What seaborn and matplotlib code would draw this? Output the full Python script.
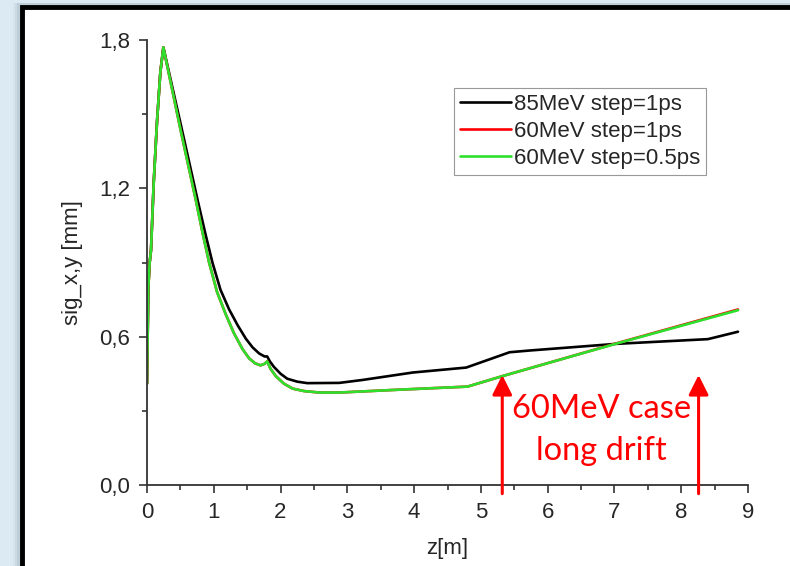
import matplotlib
matplotlib.use("Agg")
import matplotlib.pyplot as plt
import seaborn as sns
from matplotlib.patches import Rectangle
from matplotlib.ticker import MultipleLocator, FuncFormatter

# beam size along the line
z_85 = [0.0, 0.02, 0.04, 0.06, 0.10, 0.15, 0.20, 0.245, 0.50, 0.76, 0.88, 0.98,
        1.10, 1.23, 1.36, 1.48, 1.58, 1.68, 1.76, 1.80, 1.84, 1.90, 2.00, 2.10,
        2.25, 2.40, 2.88, 3.23, 3.98, 4.78, 5.43, 5.73, 7.03, 8.40, 8.85]
sig_85_1ps = [0.41, 0.80, 0.90, 0.95, 1.22, 1.47, 1.67, 1.77, 1.465, 1.15, 1.01, 0.90,
              0.79, 0.71, 0.645, 0.592, 0.557, 0.532, 0.52, 0.52, 0.50, 0.478, 0.45, 0.43,
              0.418, 0.412, 0.413, 0.425, 0.455, 0.475, 0.537, 0.544, 0.571, 0.59, 0.62]

z_60 = [0.0, 0.02, 0.04, 0.06, 0.10, 0.15, 0.20, 0.245, 0.50, 0.73, 0.84, 0.93,
        1.05, 1.18, 1.30, 1.43, 1.53, 1.62, 1.70, 1.76, 1.80, 1.85, 1.93, 2.05,
        2.18, 2.35, 2.58, 2.88, 3.73, 4.80, 5.33, 5.73, 7.03, 8.85]
sig_60_1ps = [0.41, 0.80, 0.90, 0.95, 1.22, 1.47, 1.67, 1.77, 1.44, 1.154, 1.01, 0.90,
              0.78, 0.69, 0.615, 0.55, 0.512, 0.492, 0.484, 0.49, 0.50, 0.47, 0.44, 0.41,
              0.39, 0.38, 0.374, 0.374, 0.385, 0.398, 0.441, 0.472, 0.573, 0.710]
sig_60_05ps = [0.41, 0.80, 0.90, 0.95, 1.22, 1.47, 1.67, 1.77, 1.44, 1.154, 1.01, 0.90,
               0.78, 0.69, 0.615, 0.55, 0.512, 0.492, 0.484, 0.49, 0.50, 0.47, 0.44, 0.41,
               0.39, 0.38, 0.374, 0.374, 0.385, 0.398, 0.441, 0.472, 0.572, 0.707]

labels = ["85MeV step=1ps", "60MeV step=1ps", "60MeV step=0.5ps"]
colors = ["#000000", "#ff0000", "#2ee02e"]

arrow_z = [5.32, 8.26]
arrow_tip = 0.445
arrow_base = -0.035
note = "60MeV case\nlong drift"

sns.set_theme(style="ticks")
plt.rcParams["font.family"] = ["Liberation Sans", "DejaVu Sans"]

fig = plt.figure(figsize=(7.9, 5.66), dpi=100, facecolor="#dbeaf3")

# slide frame with a soft shadow on the left
for i, a in enumerate([0.06, 0.10, 0.16]):
    fig.add_artist(Rectangle((0.016 + i * 0.003, -0.1), 1.2, 1.095, transform=fig.transFigure,
                             facecolor="#7d8b94", edgecolor="none", alpha=a, zorder=-3))
fig.add_artist(Rectangle((22 / 790, -0.1), 1.2, 1.1 - 7 / 566, transform=fig.transFigure,
                         facecolor="white", edgecolor="black", linewidth=3.5, zorder=-2))

ax = fig.add_axes([147 / 790, 81 / 566, 601 / 790, 445 / 566])
ax.set_facecolor("none")

sns.lineplot(x=z_85, y=sig_85_1ps, color=colors[0], linewidth=1.9, label=labels[0], sort=False, ax=ax)
sns.lineplot(x=z_60, y=sig_60_1ps, color=colors[1], linewidth=1.9, label=labels[1], sort=False, ax=ax)
sns.lineplot(x=z_60, y=sig_60_05ps, color=colors[2], linewidth=1.9, label=labels[2], sort=False, ax=ax)

ax.set_xlim(0, 9)
ax.set_ylim(0, 1.8)
ax.xaxis.set_major_locator(MultipleLocator(1))
ax.xaxis.set_minor_locator(MultipleLocator(0.5))
ax.yaxis.set_major_locator(MultipleLocator(0.6))
ax.yaxis.set_minor_locator(MultipleLocator(0.3))
ax.yaxis.set_major_formatter(FuncFormatter(lambda v, p: f"{v:.1f}".replace(".", ",")))
ax.tick_params(which="major", length=6, width=1.2, pad=6, labelsize=16, color="#333333")
ax.tick_params(which="minor", length=3.5, width=1.2, color="#333333")
sns.despine(ax=ax)
for s in ["left", "bottom"]:
    ax.spines[s].set_linewidth(1.3)
    ax.spines[s].set_color("#333333")

ax.set_xlabel("z[m]", fontsize=16, labelpad=11)
ax.set_ylabel("sig_x,y [mm]", fontsize=16, labelpad=12)

leg = ax.legend(loc="upper right", bbox_to_anchor=(0.93, 0.892), fontsize=16,
                frameon=True, fancybox=False, framealpha=1, edgecolor="#999999",
                handlelength=2.3, handletextpad=0.15, labelspacing=0.28,
                borderpad=0.25, borderaxespad=0)
leg.get_frame().set_linewidth(0.8)

for z in arrow_z:
    ax.annotate("", xy=(z, arrow_tip), xytext=(z, arrow_base), annotation_clip=False,
                arrowprops=dict(arrowstyle="-|>,head_width=0.6,head_length=1.2",
                                color="#ff0000", lw=2.2, shrinkA=0, shrinkB=0,
                                mutation_scale=10))
ax.text(6.81, 0.222, note, color="#ff0000", fontsize=23.5, family=["Lato", "DejaVu Sans"],
        ha="center", va="center", linespacing=1.5)

fig.savefig("out.png", dpi=100, facecolor=fig.get_facecolor())
